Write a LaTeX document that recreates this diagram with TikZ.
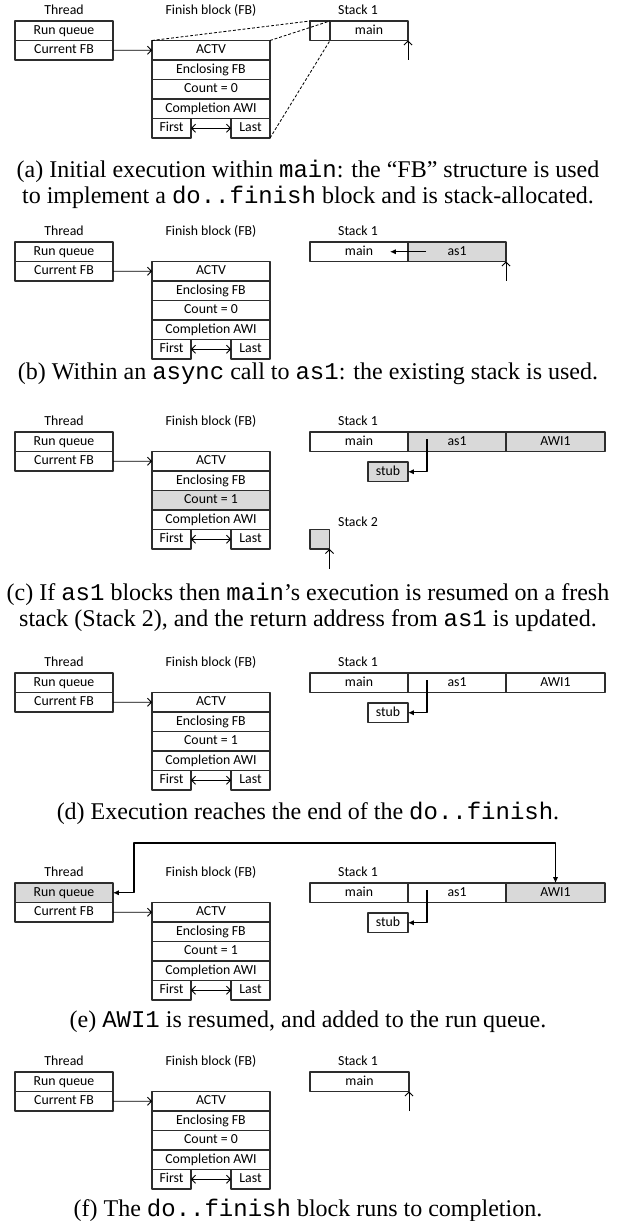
\documentclass[tikz,border=0pt]{standalone}
\usepackage{fontspec}
\setmainfont{Liberation Serif}
\setmonofont{Liberation Mono}
\newfontfamily\diagfont{Carlito}
\usepackage{tikz}
\usetikzlibrary{arrows.meta,positioning}
\definecolor{cellgray}{RGB}{217,217,217}
\definecolor{boxline}{RGB}{45,45,45}
\newdimen\pix \pix=0.4167pt
\newcommand{\diagtext}{\diagfont\fontsize{5.75}{6.9}\selectfont}
\newcommand{\captext}{\fontsize{10}{12}\selectfont}
% thread and finish block, the same in every panel
% #1 count value, #2 style of the count cell, #3 style of the run queue cell
\newcommand{\threadfb}[3]{%
  \node[heading] (thr) at (64,-9.5) {Thread};
  \node[cell,#3,minimum width=98\pix] (rq) at (64,9.75) {Run queue};
  \node[cell,minimum width=98\pix,below=0pt of rq] (cfb) {Current FB};
  \node[heading] (fbt) at (211,-9.5) {Finish block (FB)};
  \node[cell,minimum width=118\pix] (actv) at (211,29.25) {ACTV};
  \node[cell,minimum width=118\pix,below=0pt of actv] (encl) {Enclosing FB};
  \node[cell,#2,minimum width=118\pix,below=0pt of encl] (cnt) {Count = #1};
  \node[cell,minimum width=118\pix,below=0pt of cnt] (cawi) {Completion AWI};
  \node[cell,minimum width=39\pix,below right=0pt and 0pt of cawi.south west] (first) {First};
  \node[cell,minimum width=39\pix,below left=0pt and 0pt of cawi.south east] (last) {Last};
  \draw[openarrow,->] (cfb) -- (actv);
  \draw[openarrow,<->] (first) -- (last);
}

\begin{document}
\begin{tikzpicture}[x=0.4167pt,y=-0.4167pt,line join=round,
  cell/.style={draw=boxline,line width=0.5pt,inner sep=0pt,outer sep=0pt,
    minimum height=19.5\pix,font=\diagtext,text height=4.1pt,text depth=1.3pt},
  shaded/.style={fill=cellgray},
  heading/.style={inner sep=0pt,font=\diagtext,text height=4.1pt,text depth=1.3pt},
  caption/.style={inner sep=0pt,font=\captext,anchor=base},
  openarrow/.style={line width=0.4pt,>={Straight Barb[length=1.6pt,width=3.4pt]}},
  solidarrow/.style={line width=0.45pt,>={Latex[length=2.4pt,width=2.2pt]}},
  fbdash/.style={line width=0.35pt,dash pattern=on 1.2pt off 0.8pt}]
  \useasboundingbox (0,0) rectangle (616,1221);

  % --- (a) FB allocated in main's frame ---
  \begin{scope}[shift={(0,21)}]
    \threadfb{0}{}{}
    \node[heading] (st) at (358,-9.5) {Stack 1};
    \node[cell,minimum width=20\pix,anchor=west] (fbs) at (310,9.75) {};
    \node[cell,minimum width=78\pix,right=0pt of fbs] (main) {main};
    \coordinate[below=19.5\pix of main.south east] (sp);
    \draw[openarrow,->] (sp) -- (main.south east);
    % zoom lines from the frame slot to the FB
    \draw[fbdash] (actv.north west) -- (fbs.north west)
                  (actv.north east) -- (fbs.north east)
                  (last.south east) -- (fbs.south east);
  \end{scope}
  \node[caption] (capa1) at (308,178) {(a) Initial execution within \texttt{main}: the “FB” structure is used};
  \node[caption] (capa2) at (308,204) {to implement a \texttt{do..finish} block and is stack-allocated.};

  % --- (b) async call to as1 ---
  \begin{scope}[shift={(0,242)}]
    \threadfb{0}{}{}
    \node[heading] (st) at (358,-9.5) {Stack 1};
    \node[cell,minimum width=98\pix,anchor=west] (main) at (310,9.75) {main};
    \node[cell,shaded,minimum width=98\pix,right=0pt of main] (as1) {as1};
    \draw[solidarrow,->] ([xshift=18\pix]as1.west) -- ([xshift=-18\pix]main.east);
    \coordinate[below=19.5\pix of as1.south east] (sp);
    \draw[openarrow,->] (sp) -- (as1.south east);
  \end{scope}
  \node[caption] (capb) at (308,380) {(b) Within an \texttt{async} call to \texttt{as1}: the existing stack is used.};

  % --- (c) as1 blocks, main moves to Stack 2 ---
  \begin{scope}[shift={(0,432)}]
    \threadfb{1}{shaded}{}
    \node[heading] (st) at (358,-9.5) {Stack 1};
    \node[cell,minimum width=98\pix,anchor=west] (main) at (310,9.75) {main};
    \node[cell,shaded,minimum width=98\pix,right=0pt of main] (as1) {as1};
    \node[cell,shaded,minimum width=99\pix,right=0pt of as1] (awi) {AWI1};
    \node[cell,shaded,minimum width=40\pix,below left=10.5\pix and 0pt of main.south east] (stub) {stub};
    \draw[solidarrow,->] ([xshift=19\pix,yshift=-7\pix]as1.north west) |- (stub);
    \node[heading] (st2) at (358,91) {Stack 2};
    \node[cell,shaded,minimum width=19.5\pix,anchor=north west] (s2) at (310,97.5) {};
    \coordinate[below=19.5\pix of s2.south east] (sp2);
    \draw[openarrow,->] (sp2) -- (s2.south east);
  \end{scope}
  \node[caption] (capc1) at (308,600) {(c) If \texttt{as1} blocks then \texttt{main}’s execution is resumed on a fresh};
  \node[caption] (capc2) at (308,626) {stack (Stack 2), and the return address from \texttt{as1} is updated.};

  % --- (d) end of the do..finish ---
  \begin{scope}[shift={(0,673)}]
    \threadfb{1}{}{}
    \node[heading] (st) at (358,-9.5) {Stack 1};
    \node[cell,minimum width=98\pix,anchor=west] (main) at (310,9.75) {main};
    \node[cell,minimum width=98\pix,right=0pt of main] (as1) {as1};
    \node[cell,minimum width=99\pix,right=0pt of as1] (awi) {AWI1};
    \node[cell,minimum width=40\pix,below left=10.5\pix and 0pt of main.south east] (stub) {stub};
    \draw[solidarrow,->] ([xshift=19\pix,yshift=-7\pix]as1.north west) |- (stub);
  \end{scope}
  \node[caption] (capd) at (308,819) {(d) Execution reaches the end of the \texttt{do..finish}.};

  % --- (e) AWI1 resumed onto the run queue ---
  \begin{scope}[shift={(0,883)}]
    \threadfb{1}{}{shaded}
    \node[heading] (st) at (358,-9.5) {Stack 1};
    \node[cell,minimum width=98\pix,anchor=west] (main) at (310,9.75) {main};
    \node[cell,minimum width=98\pix,right=0pt of main] (as1) {as1};
    \node[cell,shaded,minimum width=99\pix,right=0pt of as1] (awi) {AWI1};
    \node[cell,minimum width=40\pix,below left=10.5\pix and 0pt of main.south east] (stub) {stub};
    \draw[solidarrow,->] ([xshift=19\pix,yshift=-7\pix]as1.north west) |- (stub);
    \coordinate (turn) at (134,-40);
    \draw[solidarrow,<->] (rq.east) -| (turn) -| (awi.north);
  \end{scope}
  \node[caption] (cape) at (308,1027) {(e) \texttt{AWI1} is resumed, and added to the run queue.};

  % --- (f) block complete ---
  \begin{scope}[shift={(0,1072)}]
    \threadfb{0}{}{}
    \node[heading] (st) at (358,-9.5) {Stack 1};
    \node[cell,minimum width=99\pix,anchor=west] (main) at (310,9.75) {main};
    \coordinate[below=19.5\pix of main.south east] (sp);
    \draw[openarrow,->] (sp) -- (main.south east);
  \end{scope}
  \node[caption] (capf) at (308,1216) {(f) The \texttt{do..finish} block runs to completion.};
\end{tikzpicture}
\end{document}
